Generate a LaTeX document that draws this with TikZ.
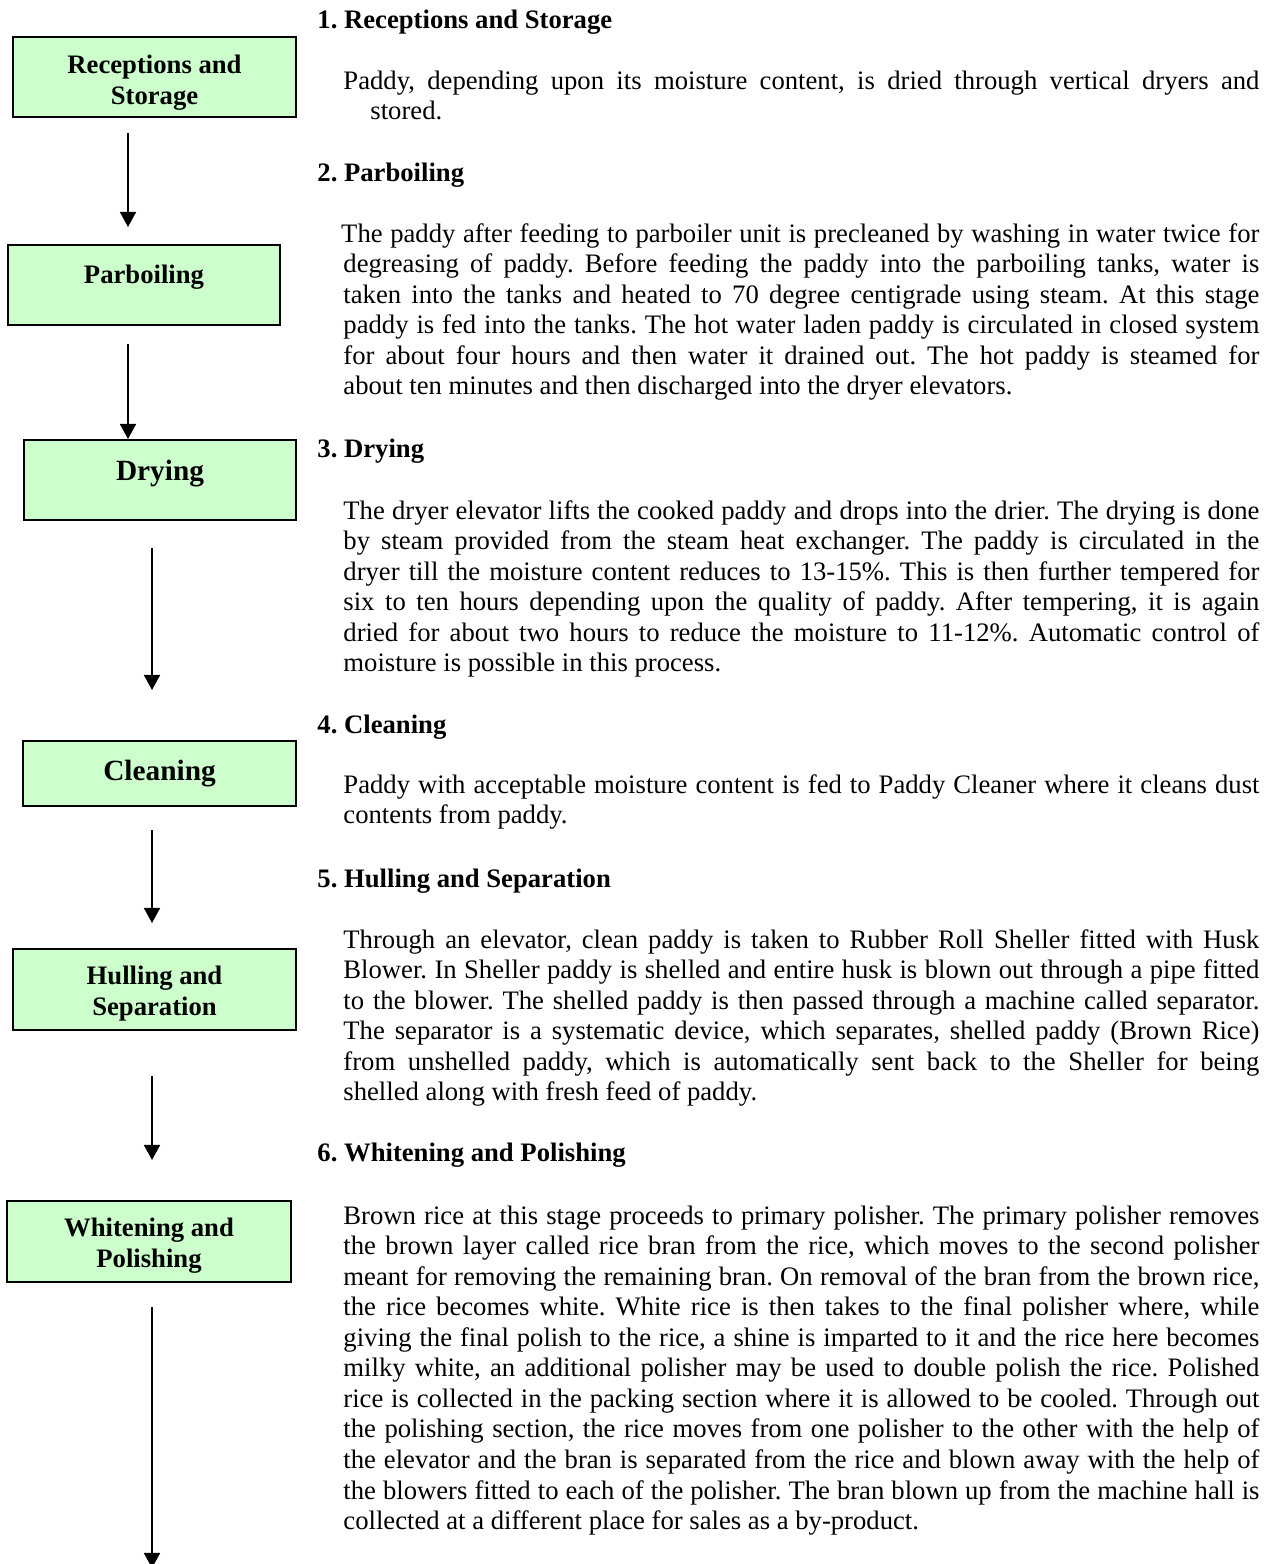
\documentclass[tikz,border=0pt]{standalone}
\usepackage{fontspec}
\setmainfont{Liberation Serif}
\usetikzlibrary{arrows.meta,calc}
\definecolor{stagegreen}{HTML}{CCFFCC}
\frenchspacing
% one justified line of a paragraph (916px wide column)
\newcommand{\jline}[1]{\hbox to 412.2pt{\spaceskip=0pt\xspaceskip=0pt #1}\par}
\tikzset{
  stage/.style={draw, fill=stagegreen, line width=0.9pt, inner sep=0pt},
  stagetext/.style={font=\bfseries\fontsize{12}{13.95}\selectfont, align=center, inner sep=0pt, anchor=base},
  bigtext/.style={font=\bfseries\fontsize{13.2}{15}\selectfont, inner sep=0pt, anchor=base},
  head/.style={font=\bfseries\fontsize{12}{13.75}\selectfont, inner sep=0pt, anchor=base west},
  body/.style={font=\fontsize{12}{13.75}\selectfont, text width=412.2pt, align=justify, inner sep=0pt, anchor=base west,
    execute at begin node={\spaceskip=0pt\xspaceskip=0pt}},
  flow/.style={line width=0.9pt, -{Triangle[width=7.2pt,length=6.8pt]}}
}
\begin{document}
\begin{tikzpicture}[x=0.45pt,y=-0.45pt]
    \useasboundingbox (0,0) rectangle (1271,1564);
    % Stage boxes:
    % Empty green rectangles, the text is set on its own node inside
    \node[stage, minimum width=283*0.45pt, minimum height=80*0.45pt] (recep) at (154.5,77) {};
    \node[stage, minimum width=272*0.45pt, minimum height=80*0.45pt] (parb) at (144,285) {};
    \node[stage, minimum width=272*0.45pt, minimum height=80*0.45pt] (dry) at (160,480) {};
    \node[stage, minimum width=273*0.45pt, minimum height=65*0.45pt] (clean) at (159.5,773.5) {};
    \node[stage, minimum width=283*0.45pt, minimum height=81*0.45pt] (hull) at (154.5,989.5) {};
    \node[stage, minimum width=284*0.45pt, minimum height=81*0.45pt] (whit) at (149,1241.5) {};

    % two-line labels sit on the baseline of their last line
    \node[stagetext] (recep-t) at (154.5,104) {Receptions and\\Storage};
    \node[stagetext] (parb-t) at (144,283) {Parboiling};
    \node[bigtext] (dry-t) at (160,480) {Drying};
    \node[bigtext] (clean-t) at (159.5,780) {Cleaning};
    \node[stagetext] (hull-t) at (154.5,1015) {Hulling and\\Separation};
    \node[stagetext] (whit-t) at (149,1267) {Whitening and\\Polishing};

    % Flow arrows between the stages (they do not sit on the box centres)
    \draw[flow] ($(recep.south)+(-26.5,15)$) -- ($(parb.north)+(-16,-17)$);
    \draw[flow] ($(parb.south)+(-16,18)$) -- ($(dry.north)+(-32,0)$);
    \draw[flow] ($(dry.south)+(-8,27)$) -- ($(clean.north)+(-7.5,-50)$);
    \draw[flow] ($(clean.south)+(-7.5,23)$) -- ($(hull.north)+(-2.5,-25)$);
    \draw[flow] ($(hull.south)+(-2.5,45)$) -- ($(whit.north)+(3,-40)$);
    \coordinate (packing) at (152,1568);
    \draw[flow] ($(whit.south)+(3,24)$) -- (packing);

    % Descriptions on the right
    \node[head] (h1) at (317,28) {1. Receptions and Storage};
    \node[body] (p1) at (343,89) {%
      \jline{Paddy, depending upon its moisture content, is dried through vertical dryers and}
      \hspace*{12.15pt}stored.};

    \node[head] (h2) at (317,181) {2. Parboiling};
    \node[body] (p2) at (343,242) {%
      \jline{\hspace*{-1pt}The paddy after feeding to parboiler unit is precleaned by washing in water twice for}
      \jline{degreasing of paddy. Before feeding the paddy into the parboiling tanks, water is}
      \jline{taken into the tanks and heated to 70 degree centigrade using steam. At this stage}
      \jline{paddy is fed into the tanks. The hot water laden paddy is circulated in closed system}
      \jline{for about four hours and then water it drained out. The hot paddy is steamed for}
      about ten minutes and then discharged into the dryer elevators.};

    \node[head] (h3) at (317,457) {3. Drying};
    \node[body] (p3) at (343,519) {%
      \jline{The dryer elevator lifts the cooked paddy and drops into the drier. The drying is done}
      \jline{by steam provided from the steam heat exchanger. The paddy is circulated in the}
      \jline{dryer till the moisture content reduces to 13-15\%. This is then further tempered for}
      \jline{six to ten hours depending upon the quality of paddy. After tempering, it is again}
      \jline{dried for about two hours to reduce the moisture to 11-12\%. Automatic control of}
      moisture is possible in this process.};

    \node[head] (h4) at (317,733) {4. Cleaning};
    \node[body] (p4) at (343,793) {%
      \jline{Paddy with acceptable moisture content is fed to Paddy Cleaner where it cleans dust}
      contents from paddy.};

    \node[head] (h5) at (317,887) {5. Hulling and Separation};
    \node[body] (p5) at (343,948) {%
      \jline{Through an elevator, clean paddy is taken to Rubber Roll Sheller fitted with Husk}
      \jline{Blower. In Sheller paddy is shelled and entire husk is blown out through a pipe fitted}
      \jline{to the blower. The shelled paddy is then passed through a machine called separator.}
      \jline{The separator is a systematic device, which separates, shelled paddy (Brown Rice)}
      \jline{from unshelled paddy, which is automatically sent back to the Sheller for being}
      shelled along with fresh feed of paddy.};

    \node[head] (h6) at (317,1161) {6. Whitening and Polishing};
    \node[body] (p6) at (343,1224) {%
      \jline{Brown rice at this stage proceeds to primary polisher. The primary polisher removes}
      \jline{the brown layer called rice bran from the rice, which moves to the second polisher}
      \jline{meant for removing the remaining bran. On removal of the bran from the brown rice,}
      \jline{the rice becomes white. White rice is then takes to the final polisher where, while}
      \jline{giving the final polish to the rice, a shine is imparted to it and the rice here becomes}
      \jline{milky white, an additional polisher may be used to double polish the rice. Polished}
      \jline{rice is collected in the packing section where it is allowed to be cooled. Through out}
      \jline{the polishing section, the rice moves from one polisher to the other with the help of}
      \jline{the elevator and the bran is separated from the rice and blown away with the help of}
      \jline{the blowers fitted to each of the polisher. The bran blown up from the machine hall is}
      collected at a different place for sales as a by-product.};
\end{tikzpicture}
\end{document}
